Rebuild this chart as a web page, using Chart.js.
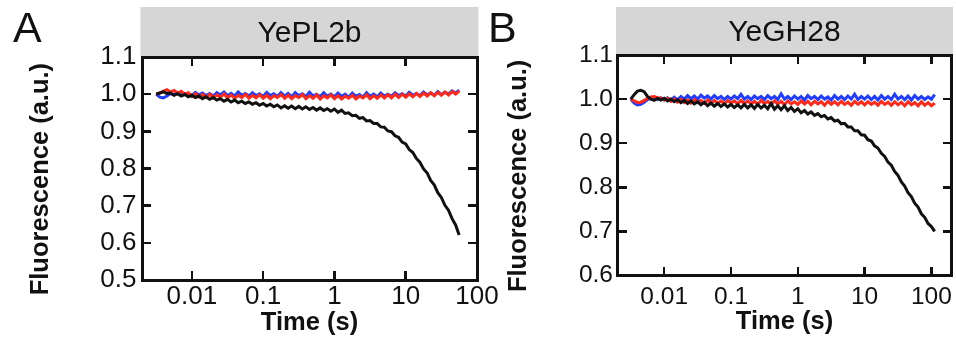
<!DOCTYPE html>
<html>
<head>
<meta charset="utf-8">
<script src="https://cdn.jsdelivr.net/npm/chart.js@4.4.1/dist/chart.umd.min.js"></script>
<style>
  body { margin: 0; background: #fff; }
  #wrap { position: relative; width: 956px; height: 341px; overflow: hidden; }
  canvas { position: absolute; top: 0; }
  #chartA { left: 0; }
  #chartB { left: 480px; }
  .box { position: absolute; box-sizing: border-box; border: 3px solid #111; pointer-events: none; }
  .tick { position: absolute; background: #111; pointer-events: none; }
</style>
</head>
<body>
<div id="wrap">
  <canvas id="chartA" width="505" height="341"></canvas>
  <canvas id="chartB" width="476" height="341"></canvas>
</div>
<script>
// sampling times (s), shared by both panels
const time = [
  0.00316, 0.00355, 0.00398, 0.00447, 0.00501, 0.00562, 0.00631, 0.00708, 0.00794, 0.00891,
  0.01, 0.0112, 0.0126, 0.0141, 0.0158, 0.0178, 0.02, 0.0224, 0.0251, 0.0282,
  0.0316, 0.0355, 0.0398, 0.0447, 0.0501, 0.0562, 0.0631, 0.0708, 0.0794, 0.0891,
  0.1, 0.112, 0.126, 0.141, 0.158, 0.178, 0.2, 0.224, 0.251, 0.282,
  0.316, 0.355, 0.398, 0.447, 0.501, 0.562, 0.631, 0.708, 0.794, 0.891,
  1, 1.12, 1.26, 1.41, 1.58, 1.78, 2, 2.24, 2.51, 2.82,
  3.16, 3.55, 3.98, 4.47, 5.01, 5.62, 6.31, 7.08, 7.94, 8.91,
  10, 11.2, 12.6, 14.1, 15.8, 17.8, 20, 22.4, 25.1, 28.2,
  31.6, 35.5, 39.8, 44.7, 50.1, 56.2, 63.1, 70.8, 79.4, 89.1,
  100, 112
]

const xTicks = [0.01, 0.1, 1, 10, 100]
const xTickLabels = ['0.01', '0.1', '1', '10', '100']
const yTicksA = [0.5, 0.6, 0.7, 0.8, 0.9, 1.0, 1.1]
const yTickLabelsA = ['0.5', '0.6', '0.7', '0.8', '0.9', '1.0', '1.1']
const yTicksB = [0.6, 0.7, 0.8, 0.9, 1.0, 1.1]
const yTickLabelsB = ['0.6', '0.7', '0.8', '0.9', '1.0', '1.1']

// Panel A - YePL2b
const blackA = [
  1.000, 1.003, 1.006, 1.002, 1.003, 0.997, 1.001, 0.995, 0.999, 0.993,
  0.997, 0.991, 0.995, 0.988, 0.993, 0.986, 0.991, 0.984, 0.988, 0.981,
  0.986, 0.979, 0.984, 0.977, 0.981, 0.975, 0.979, 0.973, 0.977, 0.970,
  0.975, 0.968, 0.973, 0.966, 0.971, 0.963, 0.969, 0.962, 0.968, 0.961,
  0.967, 0.960, 0.966, 0.959, 0.964, 0.957, 0.963, 0.956, 0.961, 0.954,
  0.960, 0.951, 0.957, 0.948, 0.950, 0.942, 0.943, 0.935, 0.937, 0.928,
  0.929, 0.921, 0.921, 0.912, 0.911, 0.901, 0.899, 0.888, 0.884, 0.871,
  0.866, 0.851, 0.843, 0.827, 0.817, 0.799, 0.788, 0.768, 0.756, 0.735,
  0.722, 0.701, 0.688, 0.665, 0.648, 0.621
]
const redA = [
  1.000, 1.003, 1.008, 1.012, 1.006, 1.010, 1.003, 1.008, 1.000, 1.004,
  0.994, 1.001, 0.992, 0.999, 0.991, 1.000, 0.990, 0.998, 0.992, 1.001,
  0.990, 0.998, 0.989, 0.997, 0.991, 1.000, 0.989, 0.997, 0.990, 0.999,
  0.989, 0.997, 0.988, 0.996, 0.991, 0.999, 0.989, 0.997, 0.988, 0.996,
  0.991, 0.999, 0.988, 0.996, 0.989, 0.998, 0.987, 0.996, 0.990, 0.998,
  0.988, 0.996, 0.987, 0.995, 0.989, 0.997, 0.987, 0.995, 0.990, 0.998,
  0.988, 0.996, 0.989, 0.998, 0.990, 0.999, 0.990, 1.000, 0.991, 1.000,
  0.992, 1.001, 0.993, 1.002, 0.994, 1.003, 0.995, 1.004, 0.996, 1.005,
  0.997, 1.006, 0.998, 1.007, 1.000, 1.008
]
const blueA = [
  1.000, 0.992, 0.990, 0.995, 1.002, 0.999, 1.003, 0.998, 1.002, 0.999,
  0.997, 1.005, 0.998, 1.003, 0.996, 1.002, 0.995, 1.004, 0.998, 1.006,
  0.996, 1.002, 0.995, 1.006, 0.997, 1.002, 0.995, 1.004, 0.996, 1.001,
  0.994, 1.005, 0.996, 1.001, 0.994, 1.004, 0.995, 1.002, 0.993, 1.004,
  0.996, 1.001, 0.994, 1.005, 0.995, 1.000, 0.993, 1.004, 0.994, 1.000,
  0.993, 1.003, 0.994, 1.000, 0.992, 1.003, 0.994, 0.999, 0.992, 1.004,
  0.994, 1.000, 0.993, 1.003, 0.995, 1.000, 0.994, 1.004, 0.996, 1.001,
  0.995, 1.005, 0.997, 1.002, 0.996, 1.006, 0.998, 1.003, 0.997, 1.007,
  0.999, 1.005, 1.000, 1.009, 1.003, 1.011
]

// Panel B - YeGH28
const blackB = [
  1.000, 1.010, 1.018, 1.020, 1.017, 1.006, 1.000, 0.997, 1.002, 0.998,
  1.002, 0.996, 1.000, 0.994, 0.999, 0.992, 0.997, 0.990, 0.996, 0.989,
  0.994, 0.987, 0.993, 0.985, 0.991, 0.984, 0.990, 0.983, 0.989, 0.982,
  0.988, 0.981, 0.987, 0.980, 0.988, 0.980, 0.987, 0.979, 0.988, 0.980,
  0.986, 0.978, 0.990, 0.977, 0.985, 0.976, 0.985, 0.974, 0.981, 0.972,
  0.978, 0.969, 0.974, 0.966, 0.971, 0.963, 0.967, 0.960, 0.963, 0.955,
  0.958, 0.950, 0.952, 0.944, 0.945, 0.937, 0.937, 0.928, 0.928, 0.919,
  0.918, 0.908, 0.905, 0.894, 0.889, 0.877, 0.870, 0.857, 0.850, 0.836,
  0.827, 0.812, 0.803, 0.788, 0.779, 0.764, 0.755, 0.740, 0.732, 0.718,
  0.711, 0.700
]
const redB = [
  1.000, 0.996, 0.992, 0.993, 0.997, 1.002, 1.005, 1.006, 1.003, 1.002,
  0.998, 1.002, 0.995, 1.000, 0.993, 0.999, 0.992, 0.998, 0.991, 0.999,
  0.992, 0.997, 0.990, 0.998, 0.991, 0.997, 0.990, 0.996, 0.989, 0.997,
  0.991, 0.996, 0.989, 0.997, 0.990, 0.996, 0.989, 0.995, 0.988, 0.997,
  0.990, 0.995, 0.988, 0.996, 0.989, 0.995, 0.987, 0.996, 0.989, 0.994,
  0.988, 0.996, 0.989, 0.995, 0.987, 0.995, 0.989, 0.994, 0.986, 0.995,
  0.988, 0.994, 0.987, 0.995, 0.988, 0.993, 0.986, 0.995, 0.988, 0.994,
  0.987, 0.994, 0.988, 0.993, 0.986, 0.995, 0.988, 0.993, 0.986, 0.994,
  0.987, 0.993, 0.985, 0.994, 0.987, 0.992, 0.985, 0.994, 0.986, 0.992,
  0.985, 0.991
]
const blueB = [
  1.000, 0.991, 0.987, 0.988, 0.993, 0.999, 1.002, 1.004, 0.999, 1.003,
  0.998, 1.003, 0.997, 1.004, 0.998, 1.006, 1.000, 1.008, 1.001, 1.007,
  1.000, 1.009, 1.002, 1.007, 1.000, 1.008, 1.001, 1.006, 0.999, 1.006,
  1.000, 1.007, 1.001, 1.011, 1.000, 1.006, 0.999, 1.007, 1.001, 1.006,
  0.999, 1.008, 1.001, 1.006, 0.999, 1.012, 1.000, 1.006, 0.999, 1.007,
  1.000, 1.006, 0.998, 1.008, 1.001, 1.006, 0.999, 1.007, 1.000, 1.005,
  0.998, 1.008, 1.000, 1.006, 0.999, 1.007, 1.000, 1.011, 0.999, 1.006,
  1.000, 1.007, 0.999, 1.006, 0.998, 1.008, 1.000, 1.006, 0.999, 1.011,
  1.000, 1.006, 0.999, 1.007, 0.998, 1.008, 1.000, 1.006, 0.999, 1.005,
  1.000, 1.010
]

const FONT = '"Liberation Sans", Arial, Helvetica, sans-serif'
const INK = '#111'

// grey strip with the panel name and the big panel letter
const panelHeader = {
  id: 'panelHeader',
  beforeDraw (chart, args, opts) {
    const { ctx, chartArea } = chart
    ctx.save()
    ctx.fillStyle = '#d6d6d6'
    ctx.fillRect(chartArea.left - 1.5, opts.top, chartArea.right - chartArea.left + 3, chartArea.top - opts.top)
    ctx.fillStyle = INK
    ctx.textAlign = 'center'
    ctx.textBaseline = 'alphabetic'
    ctx.font = '30px ' + FONT
    ctx.fillText(opts.text, (chartArea.left + chartArea.right) / 2, opts.baseline)
    ctx.textAlign = 'left'
    ctx.font = '43px ' + FONT
    ctx.fillText(opts.letter, opts.letterX, 42)
    ctx.restore()
  }
}

/**
 * Put the boxed frame with inward ticks over a finished chart,
 * placed from the chart's own area and scales.
 *
 * @param {Chart} chart - the panel
 * @param {number} offsetX - left of the panel canvas in the page
 */
function addFrame (chart, offsetX) {
  const wrap = document.getElementById('wrap')
  const a = chart.chartArea
  const { x, y } = chart.scales
  const add = (cls, l, t, w, h) => {
    const el = document.createElement('div')
    el.className = cls
    el.style.left = (offsetX + l) + 'px'
    el.style.top = t + 'px'
    el.style.width = w + 'px'
    el.style.height = h + 'px'
    wrap.appendChild(el)
  }
  add('box', a.left - 1.5, a.top - 1.5, a.right - a.left + 3, a.bottom - a.top + 3)
  x.ticks.forEach(t => {
    const px = x.getPixelForValue(t.value)
    if (px > a.right - 2) return
    add('tick', px - 1.25, a.bottom - 9, 2.5, 9)
    add('tick', px - 1.25, a.top, 2.5, 9)
  })
  y.ticks.forEach(t => {
    const py = y.getPixelForValue(t.value)
    add('tick', a.left, py - 1.25, 9, 2.5)
    add('tick', a.right - 9, py - 1.25, 9, 2.5)
  })
}

/**
 * Build one panel.
 *
 * @param {string} id - canvas id
 * @param {object} p - panel settings
 * @returns {Chart} the chart
 */
function makePanel (id, p) {
  const ctx = document.getElementById(id).getContext('2d')
  const pts = vals => vals.map((v, i) => ({ x: time[i], y: v }))
  const noGrid = { display: false, drawTicks: false, drawOnChartArea: false }
  const tickFont = { family: FONT, size: p.tickSize }
  const titleFont = { family: FONT, size: 25.5, weight: 'bold' }

  return new Chart(ctx, {
    type: 'line',
    data: {
      datasets: [
        { label: 'black', data: pts(p.black), borderColor: INK, borderWidth: 3 },
        { label: 'red', data: pts(p.red), borderColor: '#ff2a1a', borderWidth: 3 },
        { label: 'blue', data: pts(p.blue), borderColor: '#1f3cff', borderWidth: 3 }
      ]
    },
    options: {
      responsive: false,
      animation: false,
      layout: { padding: { top: p.top, right: p.padRight, bottom: 0, left: 0 } },
      elements: { point: { radius: 0 }, line: { tension: 0 } },
      plugins: {
        legend: { display: false },
        tooltip: { enabled: false },
        panelHeader: { text: p.header, letter: p.letter, letterX: p.letterX, top: 7, baseline: p.headerBase }
      },
      scales: {
        x: {
          type: 'logarithmic',
          position: 'bottom',
          min: 0.002,
          max: p.xMax,
          afterBuildTicks: s => { s.ticks = xTicks.map(v => ({ value: v })) },
          afterFit: s => { s.height = 341 - p.bottom; s.paddingLeft = 0; s.paddingRight = 0 },
          ticks: {
            autoSkip: false,
            maxRotation: 0,
            padding: p.xPad,
            color: INK,
            font: tickFont,
            callback: (v, i) => xTickLabels[i]
          },
          grid: noGrid,
          border: { display: false },
          title: { display: true, text: 'Time (s)', color: INK, font: titleFont, padding: { top: 0, bottom: p.xTitlePad } }
        },
        y: {
          type: 'linear',
          position: 'left',
          min: p.yTicks[0],
          max: p.yTicks[p.yTicks.length - 1],
          afterBuildTicks: s => { s.ticks = p.yTicks.map(v => ({ value: v })) },
          afterFit: s => { s.width = p.left; s.paddingTop = 0; s.paddingBottom = 0 },
          ticks: {
            padding: p.yPad,
            color: INK,
            font: tickFont,
            callback: (v, i) => p.yLabels[i]
          },
          grid: noGrid,
          border: { display: false },
          title: { display: true, text: 'Fluorescence (a.u.)   ', color: INK, font: titleFont, padding: { top: p.yTitlePad, bottom: 0 } }
        }
      }
    },
    plugins: [panelHeader]
  })
}

const chartA = makePanel('chartA', {
  black: blackA,
  red: redA,
  blue: blueA,
  header: 'YePL2b',
  letter: 'A',
  letterX: 13,
  headerBase: 41.5,
  xMax: 100,
  yTicks: yTicksA,
  yLabels: yTickLabelsA,
  top: 57,
  bottom: 280,
  left: 142,
  padRight: 28,
  tickSize: 26,
  xPad: 1.5,
  yPad: 5.5,
  xTitlePad: 2.5,
  yTitlePad: 26
})

const chartB = makePanel('chartB', {
  black: blackB,
  red: redB,
  blue: blueB,
  header: 'YeGH28',
  letter: 'B',
  letterX: 8,
  headerBase: 41,
  xMax: 200,
  yTicks: yTicksB,
  yLabels: yTickLabelsB,
  top: 55,
  bottom: 275.5,
  left: 137.5,
  padRight: 4.5,
  tickSize: 24.5,
  xPad: 7,
  yPad: 4.5,
  xTitlePad: 3.5,
  yTitlePad: 24
})

addFrame(chartA, 0)
addFrame(chartB, 480)
</script>
</body>
</html>
